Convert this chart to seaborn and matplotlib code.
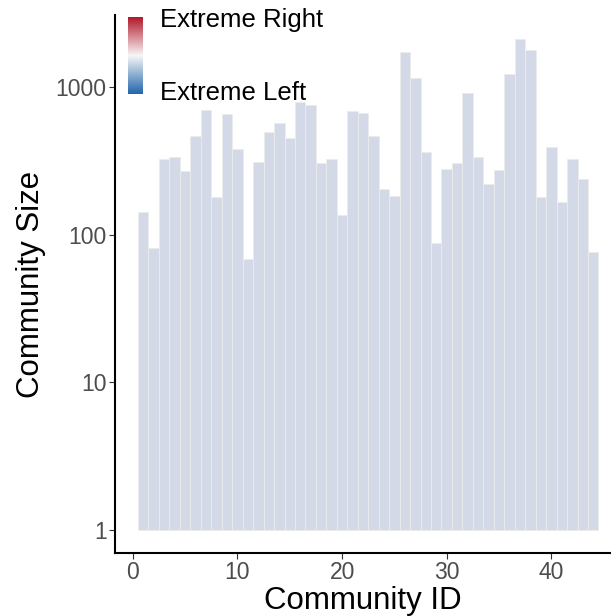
import numpy as np
import pandas as pd
import matplotlib
matplotlib.use("Agg")
import matplotlib.pyplot as plt
from matplotlib.colors import LinearSegmentedColormap
import seaborn as sns

# community sizes (log scale)
community_id = list(range(1, 45))
community_size = [142, 82, 325, 335, 270, 465, 697, 180, 656, 380,
                  69, 314, 495, 569, 451, 790, 754, 305, 325, 136,
                  687, 665, 465, 203, 183, 1722, 1150, 363, 88, 278,
                  305, 908, 335, 220, 274, 1222, 2140, 1780, 180, 392,
                  167, 325, 238, 76]

df = pd.DataFrame({"id": community_id, "size": community_size})
df["log_size"] = np.log10(df["size"])

sns.set_theme(style="white")
plt.rcParams["font.family"] = ["Liberation Sans", "DejaVu Sans"]

fig = plt.figure(figsize=(6.11, 6.16), dpi=100)
ax = fig.add_axes([115 / 611, 1 - 553 / 616, 496 / 611, 538 / 616])

sns.barplot(data=df, x="id", y="log_size", native_scale=True, width=1,
            color="#d4d9e7", saturation=1, edgecolor="#ececec",
            linewidth=0.6, ax=ax)

ax.set_xlim(-1.7, 45.7)
ax.set_ylim(-0.156, 3.49)
ax.set_xticks([0, 10, 20, 30, 40])
ax.set_yticks([0, 1, 2, 3])
ax.set_yticklabels(["1", "10", "100", "1000"])

for s in ["top", "right"]:
    ax.spines[s].set_visible(False)
for s in ["left", "bottom"]:
    ax.spines[s].set_color("black")
    ax.spines[s].set_linewidth(1.5)

ax.tick_params(axis="both", which="major", direction="out", length=4,
               width=0.8, color="#333333", labelcolor="#4d4d4d",
               labelsize=16.5, left=True, bottom=True, pad=2)

ax.set_xlabel("Community ID", fontsize=22.5, color="black", labelpad=1)
ax.set_ylabel("Community Size", fontsize=22.5, color="black", labelpad=7)

# colourbar legend inside the plot
cmap = LinearSegmentedColormap.from_list("lean", ["#2166ac", "#f7f7f7", "#b2182b"])
cax = fig.add_axes([128 / 611, 1 - 94 / 616, 15 / 611, 77 / 616])
cax.imshow(np.linspace(0, 1, 256).reshape(-1, 1), aspect="auto",
           origin="lower", cmap=cmap)
cax.set_xticks([])
cax.set_yticks([])
for s in cax.spines.values():
    s.set_visible(False)

fig.text(160 / 611, 1 - 20 / 616, "Extreme Right", fontsize=18.5,
         va="center", ha="left", color="black")
fig.text(160 / 611, 1 - 93 / 616, "Extreme Left", fontsize=18.5,
         va="center", ha="left", color="black")

fig.savefig("out.png", dpi=100)
